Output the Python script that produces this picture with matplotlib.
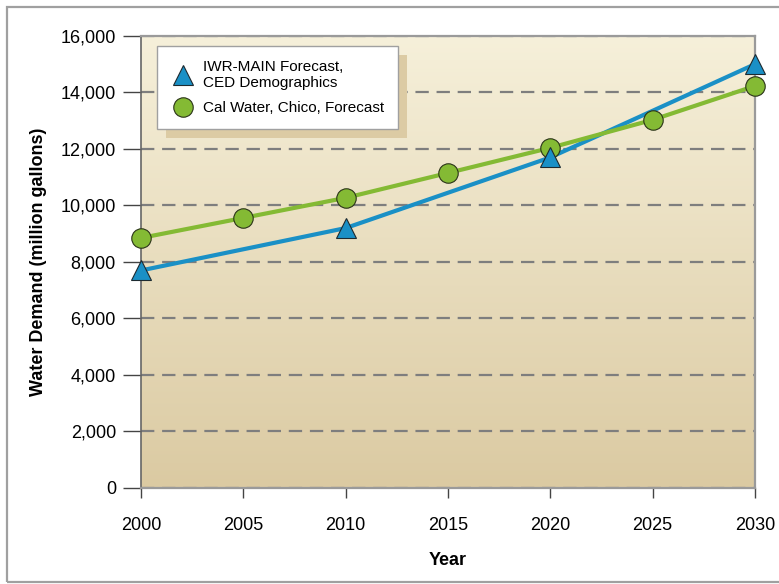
import numpy as np
import matplotlib.pyplot as plt
from matplotlib.lines import Line2D
from matplotlib.patches import Rectangle

plt.rcParams['font.family'] = ['Liberation Sans', 'DejaVu Sans']

years_iwr = [2000, 2010, 2020, 2030]
demand_iwr = [7700, 9200, 11700, 15000]

years_cal = [2000, 2005, 2010, 2015, 2020, 2025, 2030]
demand_cal = [8850, 9560, 10270, 11150, 12040, 13030, 14230]

xticks = [2000, 2005, 2010, 2015, 2020, 2025, 2030]
yticks = np.arange(0, 16001, 2000)

blue = '#1a90c6'
green = '#84ba34'

fig = plt.figure(figsize=(7.79, 5.84), dpi=100)
ax = fig.add_axes([0.181, 0.1644, 0.788, 0.774])

# tan gradient background
grad = np.linspace(0, 1, 256).reshape(-1, 1)
top = np.array([0xf6, 0xf0, 0xda]) / 255
bot = np.array([0xdb, 0xca, 0xa2]) / 255
img = top + (bot - top) * grad[..., None]
ax.imshow(img, extent=[2000, 2030, 0, 16000], aspect='auto', zorder=0)

for y in yticks:
    ax.axhline(y, color='#7e7e7e', lw=1.6, ls=(0, (6, 3.5)), zorder=1)

ax.plot(years_iwr, demand_iwr, color=blue, lw=3, zorder=3, clip_on=False)
ax.plot(years_cal, demand_cal, color=green, lw=3, zorder=3, clip_on=False)
ax.plot(years_cal, demand_cal, ls='none', marker='o', ms=14, mfc=green,
        mec='#2a3318', mew=0.8, zorder=4, clip_on=False)
ax.plot(years_iwr, demand_iwr, ls='none', marker='^', ms=15, mfc=blue,
        mec='#1d2a30', mew=0.8, zorder=5, clip_on=False)

ax.set_xlim(2000, 2030)
ax.set_ylim(0, 16000)
ax.set_xticks(xticks)
ax.set_yticks(yticks)
ax.set_yticklabels([f'{v:,}' for v in yticks])
ax.tick_params(axis='y', length=13, width=1, color='#444444', labelsize=13, pad=5)
ax.tick_params(axis='x', length=7, width=1, color='#444444', labelsize=13, pad=14)

ax.spines['left'].set_color('#666666')
ax.spines['left'].set_linewidth(1.2)
for s in ['top', 'right', 'bottom']:
    ax.spines[s].set_color('#9a9a9a')
    ax.spines[s].set_linewidth(1.6)

ax.set_xlabel('Year', fontsize=13, fontweight='bold', labelpad=13)
ax.set_ylabel('Water Demand (million gallons)', fontsize=13, fontweight='bold', labelpad=10)

handles = [
    Line2D([], [], ls='none', marker='^', ms=15, mfc=blue, mec='#1d2a30', mew=0.8),
    Line2D([], [], ls='none', marker='o', ms=14, mfc=green, mec='#2a3318', mew=0.8),
]
labels = ['IWR-MAIN Forecast,\nCED Demographics', 'Cal Water, Chico, Forecast']
leg = ax.legend(handles, labels, loc='upper left', bbox_to_anchor=(0.026, 0.978),
                borderaxespad=0, fancybox=False, framealpha=1, edgecolor='#a0a0a0',
                fontsize=11, handletextpad=0.5, labelspacing=0.75, borderpad=0.9,
                handlelength=1.6)
leg.get_frame().set_linewidth(1.0)
leg.set_zorder(7)

# offset tan shadow behind the legend box
fig.canvas.draw()
bb = leg.get_window_extent()
shadow = Rectangle((bb.x0 + 9, bb.y0 - 9), bb.width, bb.height, transform=None,
                   facecolor='#dccba4', edgecolor='none', zorder=6)
ax.add_artist(shadow)

# thin gray frame around the whole figure
fig.add_artist(Rectangle((7 / 779, 2 / 584), 1.2, 575 / 584, transform=fig.transFigure,
                         fill=False, edgecolor='#a0a0a0', lw=1.6))

fig.savefig('out.png', dpi=100)
